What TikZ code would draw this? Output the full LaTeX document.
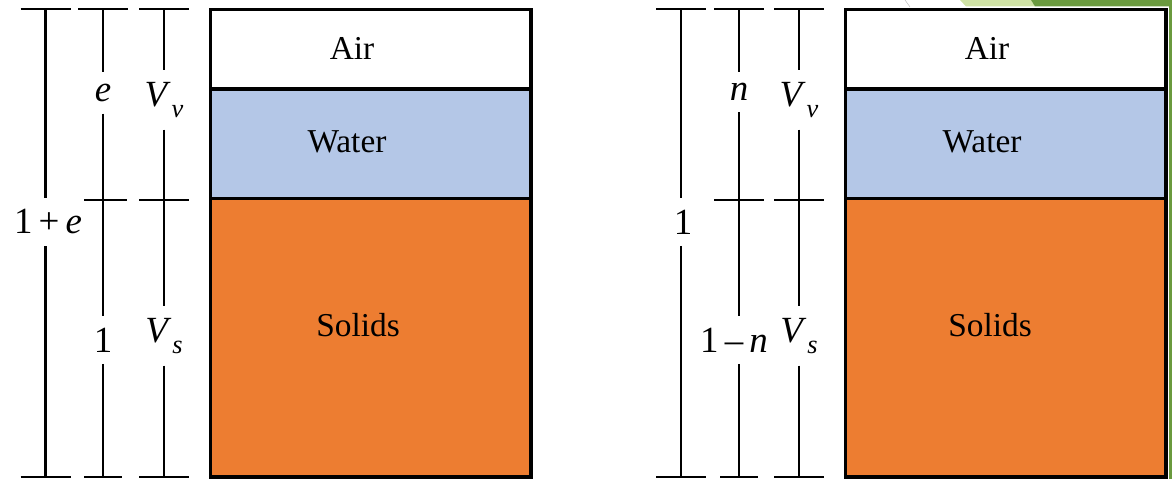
\documentclass[tikz,border=0pt]{standalone}
\usepackage{fontspec}
\setmainfont{Liberation Serif}
\newfontfamily\tnr{Liberation Serif}
\definecolor{water}{HTML}{B4C7E7}
\definecolor{solids}{HTML}{ED7D31}
\definecolor{lgreen}{HTML}{CFE2A5}
\definecolor{dgreen}{HTML}{6A9A3E}
\newcommand{\sym}[2]{\textit{#1}\kern0.5pt\raisebox{-0.3em}{\fontsize{15}{17}\selectfont\textit{#2}}}

\begin{document}
\begin{tikzpicture}[x=0.02cm,y=-0.02cm,
	dim/.style={line width=1.2pt},
	phase/.style={draw=black,line width=1.8pt},
	lab/.style={inner xsep=1pt,inner ysep=6.5pt,font=\tnr\fontsize{21}{25}\selectfont},
	word/.style={font=\tnr\fontsize{19}{22}\selectfont}]
	\useasboundingbox (0,0) rectangle (1172,479);
	% corner of the slide
	\fill[lgreen] (960,0) -- (1031,0) -- (1035,6.5) -- (966,6.5) -- cycle;
	\fill[dgreen] (1031,0) -- (1172,0) -- (1172,479) -- (1169,479) --
	(1169,6.5) -- (1035,6.5) -- cycle;
	\draw[gray!50,line width=0.3pt] (905,0) -- (910,7);
	
	% void ratio
	\draw[phase,fill=white] (210.5,9.5) rectangle (531,89);
	\draw[phase,fill=water] (210.5,89) rectangle (531,198.5);
	\draw[phase,fill=solids] (210.5,198.5) rectangle (531,477);
	\node[word] (Lair) at (352,48) {Air};
	\node[word] (Lwater) at (347,142) {Water};
	\node[word] (Lsolids) at (358,325) {Solids};
	
	\foreach \x/\w/\n in {45.5/25/a,103/19/b,164/25/c}{
		\coordinate (L\n1) at (\x,9);
		\coordinate (L\n3) at (\x,477);
		\draw[dim] (\x-25,9) -- (\x+25,9);
		\draw[dim] (\x-\w,477) -- (\x+\w,477);
	}
	\coordinate (Lb2) at (103,200);
	\coordinate (Lc2) at (164,200);
	\draw[dim] (84,200) -- (127,200);
	\draw[dim] (139,200) -- (189,200);
	
	\node[lab] (Ltot) at (48,222) {1\,+\,\textit{e}};
	\node[lab] (Le) at (103,93) {\textit{e}};
	\node[lab] (Lone) at (103,340) {1};
	\node[lab] (Lvv) at (164,100) {\sym{V}{v}};
	\node[lab] (Lvs) at (164,336) {\sym{V}{s}};
	
	\draw[dim] (La1) -- (Ltot.north -| La1);
	\draw[dim] (Ltot.south -| La1) -- (La3);
	\draw[dim] (Lb1) -- (Le);
	\draw[dim] (Le) -- (Lone);
	\draw[dim] (Lone) -- (Lb3);
	\draw[dim] (Lc1) -- (Lvv);
	\draw[dim] (Lvv) -- (Lvs);
	\draw[dim] (Lvs) -- (Lc3);
	
	% porosity
	\draw[phase,fill=white] (845.5,9.5) rectangle (1166,89);
	\draw[phase,fill=water] (845.5,89) rectangle (1166,198.5);
	\draw[phase,fill=solids] (845.5,198.5) rectangle (1166,477);
	\node[word] (Rair) at (987,48) {Air};
	\node[word] (Rwater) at (982,142) {Water};
	\node[word] (Rsolids) at (990,325) {Solids};
	
	\foreach \x/\w/\n in {681/25/a,739/19/b,799/25/c}{
		\coordinate (R\n1) at (\x,9);
		\coordinate (R\n3) at (\x,477);
		\draw[dim] (\x-25,9) -- (\x+25,9);
		\draw[dim] (\x-\w,477) -- (\x+\w,477);
	}
	\coordinate (Rb2) at (739,200);
	\coordinate (Rc2) at (799,200);
	\draw[dim] (714,200) -- (764,200);
	\draw[dim] (774,200) -- (824,200);
	
	\node[lab] (Rtot) at (683,222) {1};
	\node[lab] (Rn) at (739,92) {\textit{n}};
	\node[lab] (Rrest) at (734,340) {1\,\textendash\,\textit{n}};
	\node[lab] (Rvv) at (799,100) {\sym{V}{v}};
	\node[lab] (Rvs) at (799,336) {\sym{V}{s}};
	
	\draw[dim] (Ra1) -- (Rtot.north -| Ra1);
	\draw[dim] (Rtot.south -| Ra1) -- (Ra3);
	\draw[dim] (Rb1) -- (Rn);
	\draw[dim] (Rn) -- (Rrest.north -| Rb1);
	\draw[dim] (Rrest.south -| Rb1) -- (Rb3);
	\draw[dim] (Rc1) -- (Rvv);
	\draw[dim] (Rvv) -- (Rvs);
	\draw[dim] (Rvs) -- (Rc3);
\end{tikzpicture}
\end{document}
